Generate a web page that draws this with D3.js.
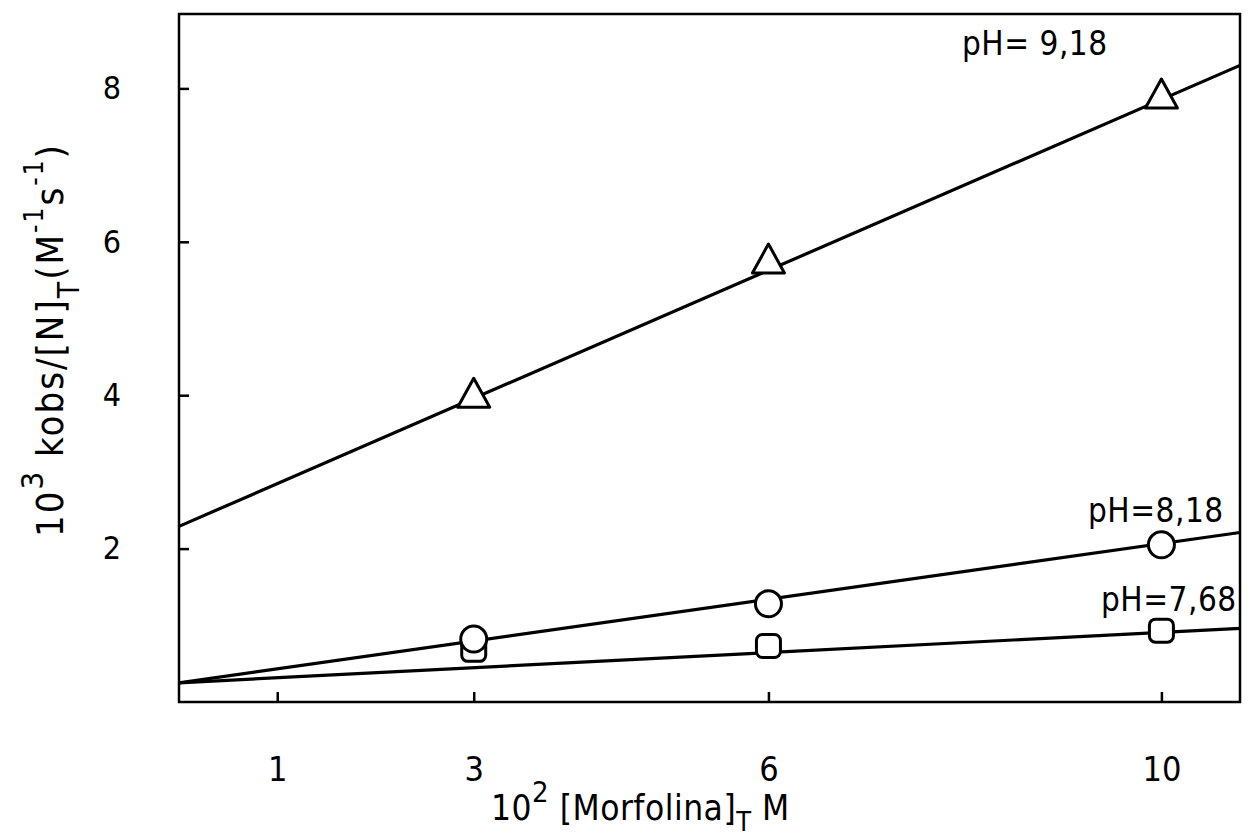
<!DOCTYPE html>
<html>
<head>
<meta charset="utf-8">
<script src="https://cdn.jsdelivr.net/npm/d3@7"></script>
<style>
  html, body { margin: 0; padding: 0; background: #fff; }
  svg { display: block; }
  text { font-family: "DejaVu Sans Condensed", "DejaVu Sans", sans-serif; fill: #000; }
</style>
</head>
<body>
<svg id="chart" width="1250" height="840"></svg>
<script>
// Morpholine concentration (10^2 [Morfolina]_T, M)
const xValues = [3, 6, 10];
// 10^3 kobs/[N]_T (M^-1 s^-1) for each buffer pH
const seriesNames = ["pH= 9,18", "pH=8,18", "pH=7,68"];
const triangleValues = [4.0, 5.75, 7.9];   // pH 9,18
const circleValues = [0.82, 1.28, 2.05];   // pH 8,18
const squareValues = [0.68, 0.73, 0.93];   // pH 7,68
// fitted straight lines: value at the left edge (x = 0) and at the right edge
const fitStart = [2.29, 0.25, 0.25];
const fitEnd = [8.30, 2.21, 0.96];
const xTicks = [1, 3, 6, 10];
const yTicks = [2, 4, 6, 8];
const xMax = 10.8, yMax = 8.97;

const svg = d3.select("#chart");
const L = 179, R = 1240, T = 14, B = 702;
const x = d3.scaleLinear().domain([0, xMax]).range([L, R]);
const y = d3.scaleLinear().domain([0, yMax]).range([B, T]);
const FONT = '"DejaVu Sans Condensed", "DejaVu Sans", sans-serif';

// frame
svg.append("rect")
  .attr("x", L).attr("y", T).attr("width", R - L).attr("height", B - T)
  .attr("fill", "none").attr("stroke", "#000").attr("stroke-width", 2.5);

// axes with inward ticks
const xAxis = svg.append("g").attr("transform", `translate(0,${B})`)
  .call(d3.axisBottom(x).tickValues(xTicks).tickSizeInner(-10).tickSizeOuter(0).tickPadding(55)
    .tickFormat(d3.format("d")));
xAxis.select(".domain").remove();
xAxis.selectAll("line").attr("stroke", "#000").attr("stroke-width", 2.5);
xAxis.selectAll("text").attr("font-size", 34).attr("fill", "#000").style("font-family", FONT);

const yAxis = svg.append("g").attr("transform", `translate(${L},0)`)
  .call(d3.axisLeft(y).tickValues(yTicks).tickSizeInner(-10).tickSizeOuter(0).tickPadding(58));
yAxis.select(".domain").remove();
yAxis.selectAll("line").attr("stroke", "#000").attr("stroke-width", 2.5);
yAxis.selectAll("text").attr("font-size", 32).attr("fill", "#000").style("font-family", FONT);

// fitted lines
fitStart.forEach((s, i) => {
  svg.append("line")
    .attr("x1", x(0)).attr("y1", y(s))
    .attr("x2", x(xMax)).attr("y2", y(fitEnd[i]))
    .attr("stroke", "#000").attr("stroke-width", 3.2);
});

const mark = { fill: "#fff", stroke: "#000", sw: 3 };

// squares (pH 7,68)
svg.selectAll(".sq").data(xValues).join("rect")
  .attr("x", (d) => x(d) - 12).attr("y", (d, i) => y(squareValues[i]) - 11.5)
  .attr("width", 24).attr("height", 23).attr("rx", 6)
  .attr("fill", mark.fill).attr("stroke", mark.stroke).attr("stroke-width", mark.sw);

// circles (pH 8,18)
svg.selectAll(".ci").data(xValues).join("circle")
  .attr("cx", (d) => x(d)).attr("cy", (d, i) => y(circleValues[i]))
  .attr("r", 13)
  .attr("fill", mark.fill).attr("stroke", mark.stroke).attr("stroke-width", mark.sw);

// triangles (pH 9,18)
const tri = d3.line();
svg.selectAll(".tr").data(xValues).join("path")
  .attr("d", (d, i) => {
    const cx = x(d), cy = y(triangleValues[i]);
    return tri([[cx, cy - 17], [cx + 16, cy + 12], [cx - 16, cy + 12]]) + "Z";
  })
  .attr("fill", mark.fill).attr("stroke", mark.stroke).attr("stroke-width", mark.sw)
  .attr("stroke-linejoin", "round");

// series labels
const labelPos = [[962, 55], [1088, 522], [1101, 611]];
seriesNames.forEach((n, i) => {
  svg.append("text").attr("x", labelPos[i][0]).attr("y", labelPos[i][1])
    .attr("font-size", 33).attr("letter-spacing", 0.5).text(n);
});

// x-axis title
const xt = svg.append("text").attr("x", 491).attr("y", 820).attr("font-size", 35)
  .attr("letter-spacing", 0.5);
xt.append("tspan").text("10");
xt.append("tspan").attr("dy", -18).attr("font-size", 29).text("2");
xt.append("tspan").attr("dy", 18).text(" [Morfolina]");
xt.append("tspan").attr("dy", 11).attr("font-size", 27).text("T");
xt.append("tspan").attr("dy", -11).text("  M");

// y-axis title
const yt = svg.append("text").attr("transform", "translate(63,537) rotate(-90)")
  .attr("font-size", 38).attr("letter-spacing", 2);
yt.append("tspan").text("10");
yt.append("tspan").attr("dy", -20).attr("font-size", 31).text("3");
yt.append("tspan").attr("dy", 20).text(" kobs/[N]");
yt.append("tspan").attr("dy", 16).attr("font-size", 30).text("T");
yt.append("tspan").attr("dy", -16).text("(M");
yt.append("tspan").attr("dy", -20).attr("font-size", 26).text("-1");
yt.append("tspan").attr("dy", 20).text("s");
yt.append("tspan").attr("dy", -20).attr("font-size", 26).text("-1");
yt.append("tspan").attr("dy", 20).text(")");
</script>
</body>
</html>
